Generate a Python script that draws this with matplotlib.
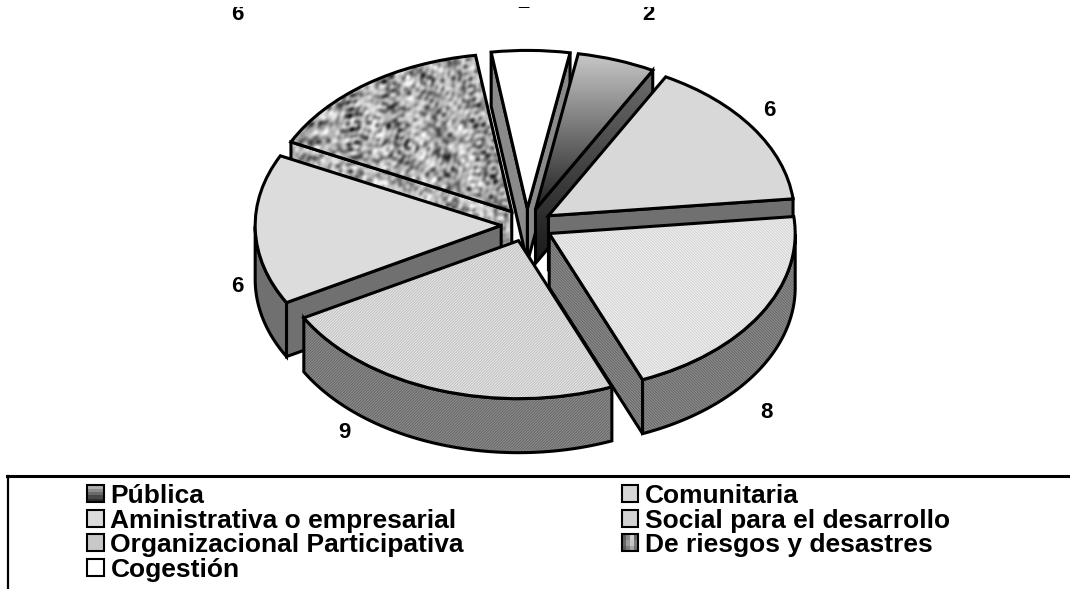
import numpy as np
import matplotlib
matplotlib.use("Agg")
import matplotlib.pyplot as plt
from matplotlib.patches import Patch, Polygon, Rectangle, Wedge
from matplotlib.lines import Line2D
from matplotlib.transforms import Affine2D
from matplotlib.legend_handler import HandlerBase

plt.rcParams['font.family'] = ['Liberation Sans', 'DejaVu Sans']
plt.rcParams['hatch.linewidth'] = 0.35

categories = ["Pública", "Comunitaria", "Aminist" + "rativa o empresarial", "Social para el desarrollo",
              "Organizacional Participativa", "De riesgos y desastres", "Cogestión"]
values = [2, 6, 8, 9, 6, 6, 2]

W, H = 1070, 589
RX, RY = 246.0, 158.0      # pie radii in pixels
CX, CY = 527.0, 225.0      # pie centre in pixels
DEPTH = 54.0 / RY
CLIP_TOP = 7

fig = plt.figure(figsize=(W / 100, H / 100), dpi=100, facecolor='white')
ax = fig.add_axes([0, 0, 1, (H - CLIP_TOP) / H])
px = Affine2D().scale(1, -1).translate(0, H)

wedges, _ = ax.pie(values, explode=[0.105] * len(values), startangle=80, counterclock=False, radius=1.0)

XLIM = ((0 - CX) / RX, (W - CX) / RX)
YLIM = ((CY - H) / RY, (CY - CLIP_TOP) / RY)

# --- mottled surface texture: a deterministic sum of many waves ------------
yy, xx = np.mgrid[0:(H - CLIP_TOP) // 2, 0:W // 2] * 2.0
speck = np.zeros_like(xx)
for i in range(220):
    ang = i * 2.39996
    f = 0.12 + 1.05 * ((i * 0.61803) % 1.0)
    speck += np.sin(f * (np.cos(ang) * xx + np.sin(ang) * yy) + i * i * 1.7)
speck = (speck - speck.mean()) / speck.std()
speck = np.where(speck < 0, speck * 1.5, speck * 0.85)   # darker flecks, softer highlights


def image_fill(patch, arr, z, canvas=False):
    tr = patch.get_patch_transform()
    verts = tr.transform(patch.get_path().vertices)
    if canvas:
        extent = (*XLIM, *YLIM)
    else:
        extent = (verts[:, 0].min(), verts[:, 0].max(), verts[:, 1].min(), verts[:, 1].max())
    im = ax.imshow(arr, cmap='gray', vmin=0, vmax=1, aspect='auto', interpolation='bicubic',
                   extent=extent, origin='upper', zorder=z)
    im.set_clip_path(patch.get_path(), tr + ax.transData)


def paint(patch, style, z):
    """Draw a face: base fill, optional hatch/image, then black outline."""
    patch.set(zorder=z, linewidth=0, edgecolor='none', facecolor=style.get('color', '#cccccc'))
    if 'hatch' in style:
        patch.set(hatch=style['hatch'], edgecolor=style['hcolor'])
    if patch.axes is None:
        ax.add_patch(patch)
    if 'grad' in style:
        a, b = style['grad']
        image_fill(patch, np.linspace(a, b, 64)[:, None], z + 0.01)
    if style.get('speck'):
        m, s = style['speck']
        image_fill(patch, np.clip(m + s * speck, 0, 1), z + 0.01, canvas=True)


def outline(maker, z):
    p = maker()
    p.set(fill=False, edgecolor='black', linewidth=2.2, zorder=z, joinstyle='miter')
    ax.add_patch(p)


top_styles = [
    {'grad': (0.78, 0.13)},
    {'color': '#d8d8d8'},
    {'color': '#eeeeee', 'hatch': '\\' * 12, 'hcolor': '#bcbcbc'},
    {'color': '#e4e4e4', 'hatch': '/' * 12, 'hcolor': '#a4a4a4'},
    {'color': '#dcdcdc'},
    {'speck': (0.68, 0.15)},
    {'color': '#ffffff'},
]
wall_styles = [
    {'grad': (0.42, 0.10)},
    {'color': '#707070'},
    {'color': '#8a8a8a', 'hatch': '\\' * 12, 'hcolor': '#4c4c4c'},
    {'color': '#8a8a8a', 'hatch': '/' * 12, 'hcolor': '#4c4c4c'},
    {'color': '#707070'},
    {'speck': (0.74, 0.13)},
    {'color': '#8a8a8a'},
]

# --- draw back to front: by the screen height of each slice's apex --------
order = sorted(range(len(wedges)), key=lambda k: -wedges[k].center[1])
for rank, k in enumerate(order):
    w = wedges[k]
    cx, cy = w.center
    t1, t2 = w.theta1, w.theta2
    base = 10 + rank
    drop = np.array([0, -DEPTH])
    apex = np.array([cx, cy])

    def unit(t):
        return np.array([np.cos(np.radians(t)), np.sin(np.radians(t))])

    mid = unit((t1 + t2) / 2)
    faces = []
    for t in (t1, t2):
        d = unit(t)
        # a radial wall shows only if "straight down" leaves the slice at that edge
        if (d[0] * mid[1] - d[1] * mid[0]) * (-d[0]) >= 0:
            continue
        e = apex + d
        faces.append(np.array([apex, e, e + drop, apex + drop]))
    ts = np.linspace(t1, t2, 160)
    ts = ts[np.sin(np.radians(ts)) < 0]
    if len(ts) > 1:
        arc = np.array([apex + unit(t) for t in ts])
        faces.append(np.vstack([arc, (arc + drop)[::-1]]))

    for j, f in enumerate(faces):
        z = base + j * 0.1
        paint(Polygon(f, closed=True), wall_styles[k], z)
        outline(lambda f=f: Polygon(f, closed=True), z + 0.05)

    paint(w, top_styles[k], base + 0.5)
    outline(lambda w=w: Wedge(w.center, w.r, w.theta1, w.theta2), base + 0.55)

# --- value labels ---------------------------------------------------------
label_px = [(648, 15), (769, 111), (766, 413), (344, 432), (237, 286), (237, 15), (523, 2)]
for v, (lx, ly) in zip(values, label_px):
    ax.text(lx, ly, str(v), transform=px, ha='center', va='center', fontsize=16,
            fontweight='bold', color='black', clip_on=True, zorder=50)

ax.set_xlim(*XLIM)
ax.set_ylim(*YLIM)
ax.set_aspect('auto')
ax.set_axis_off()


# --- legend ---------------------------------------------------------------
class SwatchHandler(HandlerBase):
    def create_artists(self, legend, orig, xd, yd, width, height, fontsize, trans):
        cells = orig.cells
        nr, nc = len(cells), len(cells[0])
        out = []
        x0, y0 = -xd, -yd
        for r in range(nr):
            for c in range(nc):
                out.append(Rectangle((x0 + c * width / nc, y0 + height - (r + 1) * height / nr),
                                     width / nc, height / nr, facecolor=cells[r][c],
                                     edgecolor='none', transform=trans))
        out.append(Rectangle((x0, y0), width, height, fill=False, edgecolor='black',
                             linewidth=1.5, transform=trans))
        return out


swatches = [
    [['#b0b0b0'], ['#8c8c8c'], ['#6a6a6a'], ['#484848'], ['#2c2c2c']],
    [['#d6d6d6']],
    [['#dcdcdc']],
    [['#d2d2d2']],
    [['#c8c8c8']],
    [['#5c5c5c', '#8a8a8a', '#d0d0d0', '#6a6a6a'],
     ['#666666', '#9a9a9a', '#c4c4c4', '#7a7a7a'],
     ['#5a5a5a', '#808080', '#a8a8a8', '#707070']],
    [['#ffffff']],
]
handles = []
for lab, cells in zip(categories, swatches):
    h = Patch(label=lab)
    h.cells = cells
    handles.append(h)
col_order = [0, 2, 4, 6, 1, 3, 5]
FS = 19
fs_px = FS * 100 / 72
fig.legend([handles[i] for i in col_order], [categories[i] for i in col_order],
           handler_map={Patch: SwatchHandler()}, ncols=2, frameon=False,
           loc='upper left', bbox_to_anchor=(87 / W, 1 - 484 / H), borderpad=0, borderaxespad=0,
           prop={'size': FS, 'weight': 'bold'}, handlelength=16.5 / fs_px, handleheight=0.62,
           handletextpad=7 / fs_px, labelspacing=0.02, columnspacing=5.98)

fig.add_artist(Line2D([7 / W, 1], [1 - 476 / H] * 2, color='black', lw=2.2, transform=fig.transFigure))
fig.add_artist(Line2D([7.5 / W, 7.5 / W], [1 - 476 / H, 0], color='black', lw=1.6, transform=fig.transFigure))

fig.savefig('out.png', dpi=100, facecolor='white')
